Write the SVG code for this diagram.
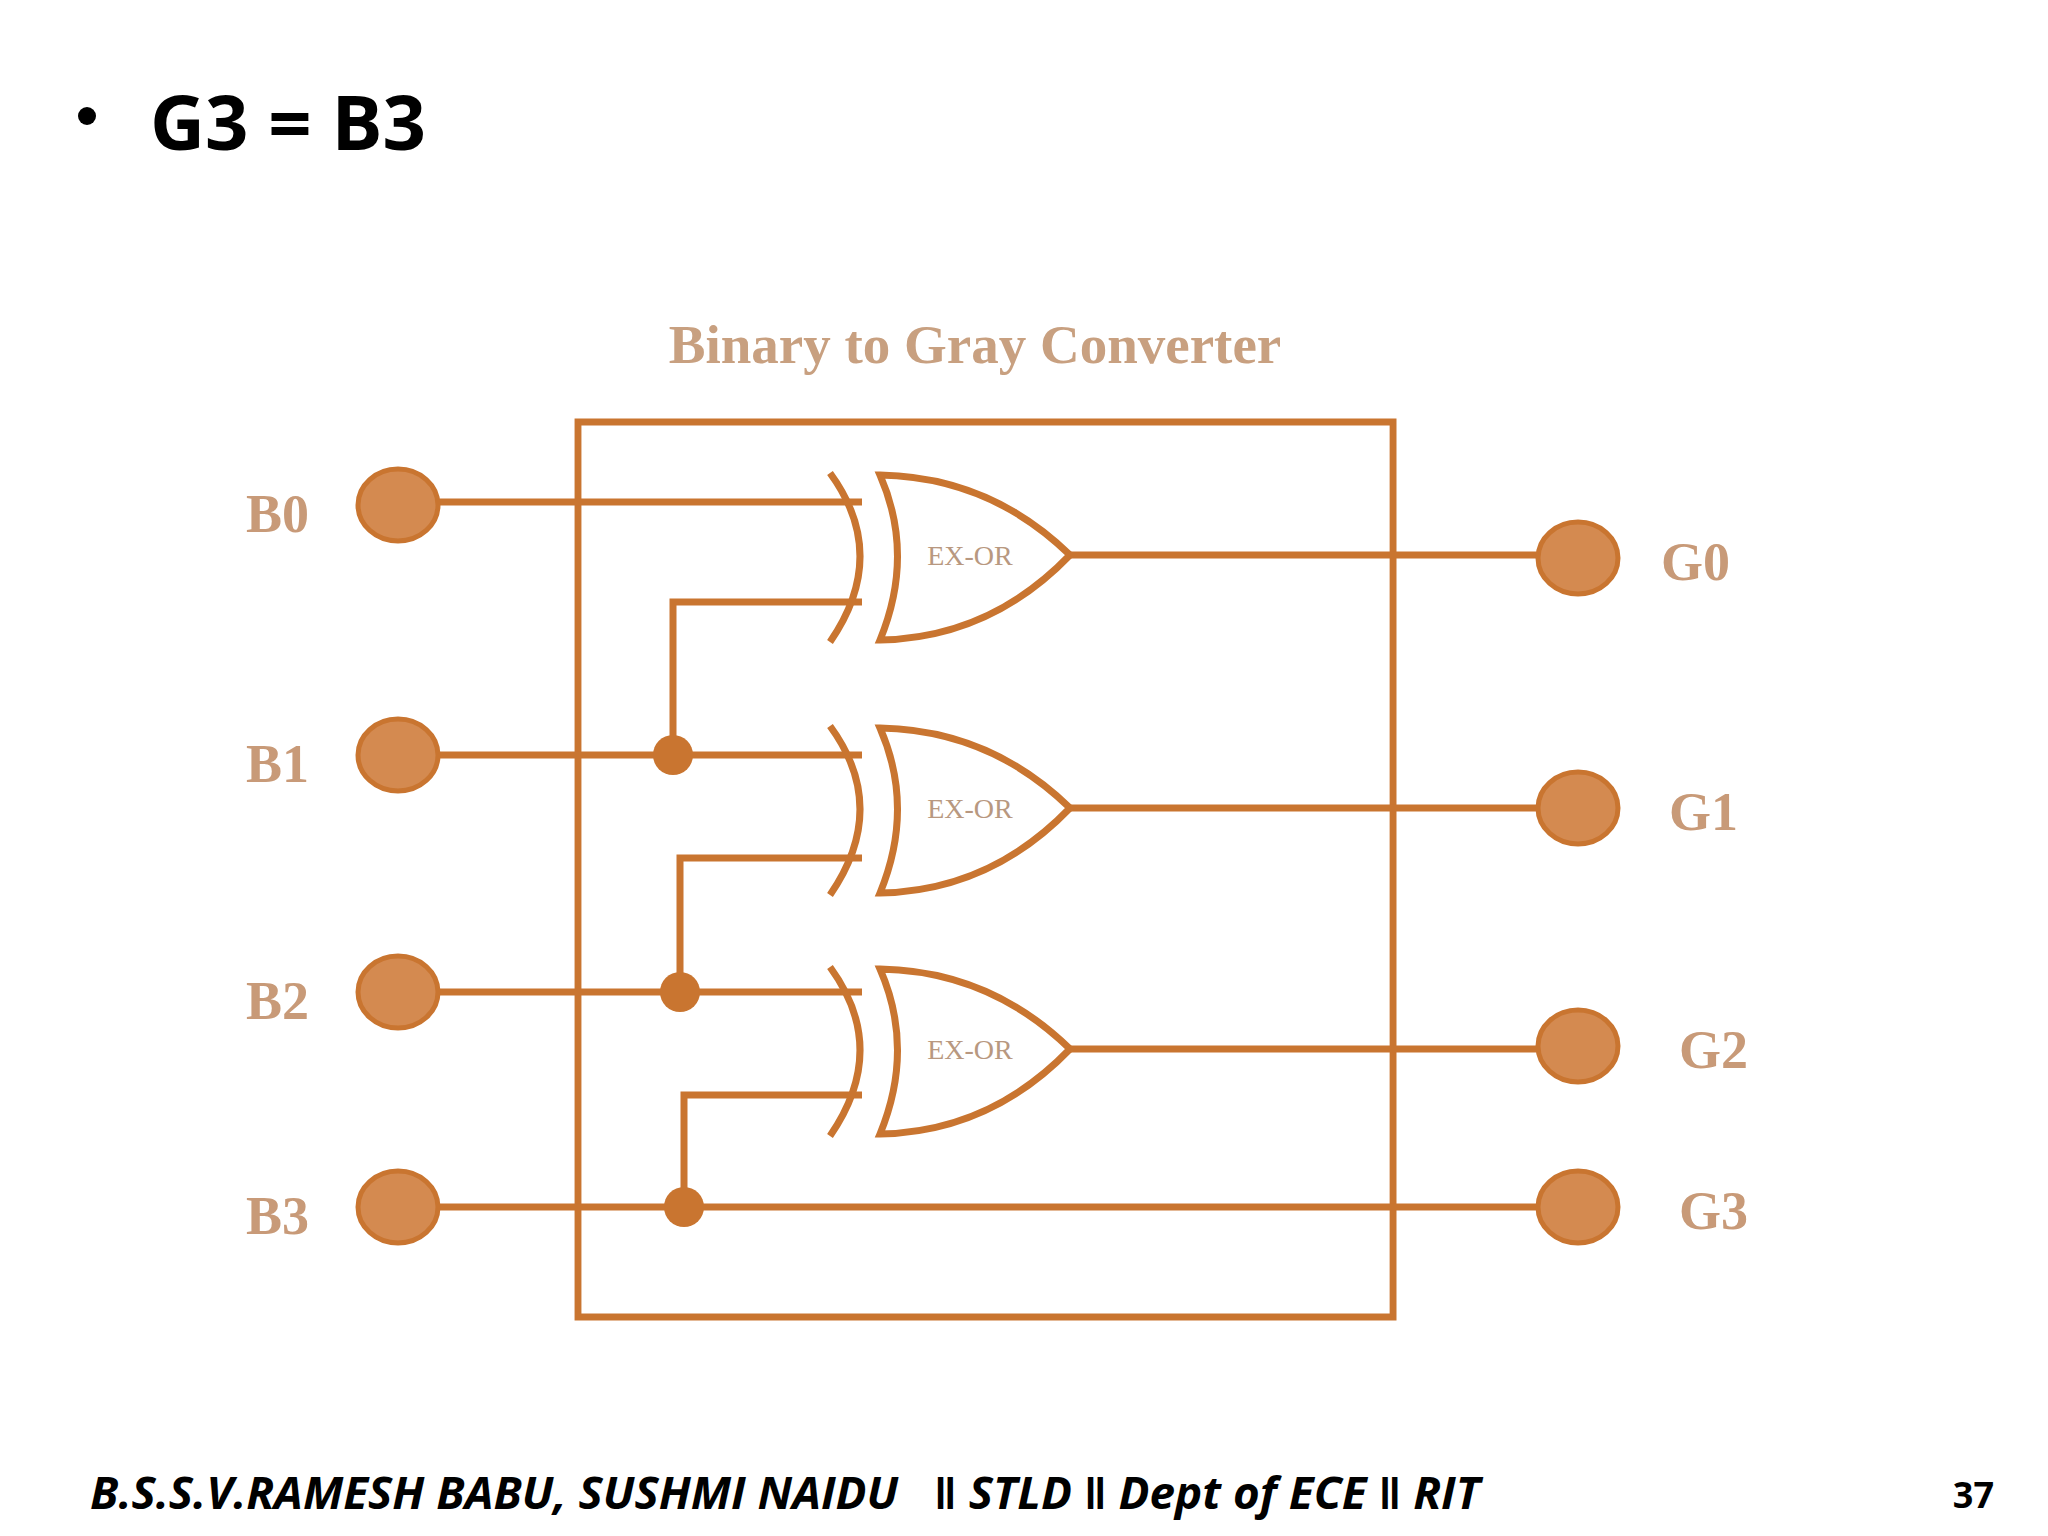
<svg xmlns="http://www.w3.org/2000/svg" width="2048" height="1536" viewBox="0 0 2048 1536">
<style>
.w{stroke:#c97530;stroke-width:7;fill:none}
.g{stroke:#c97530;stroke-width:7;fill:#fff}
.pin{fill:#d48a50;stroke:#c97530;stroke-width:5}
.dot{fill:#c97530}
.lbl{font-family:"Liberation Serif",serif;font-weight:bold;font-size:54px;fill:#c89a78}
.gt{font-family:"Liberation Serif",serif;font-size:28px;fill:#b89880}
</style>
<rect width="2048" height="1536" fill="#fff"/>
<circle cx="87" cy="116" r="9" fill="#000"/>
<text x="150" y="150" font-family="Open Sans, sans-serif" font-weight="bold" font-size="76">G3 = B3</text>
<text x="975" y="363" text-anchor="middle" font-family="Liberation Serif, serif" font-weight="bold" font-size="55" fill="#c8a080">Binary to Gray Converter</text>
<g id="connectors">
<rect x="578" y="422" width="830" height="895" class="w" transform="translate(578 0) scale(0.982 1) translate(-578 0)"/>
<path class="w" d="M398 502H862 M398 755H862 M398 992H862 M398 1207H1578"/>
<path class="w" d="M673 755V602H862 M680 992V858H862 M684 1207V1095H862"/>
<path class="w" d="M1070 555H1578 M1070 808H1578 M1070 1049H1578"/>
<circle class="dot" cx="673" cy="755" r="20"/>
<circle class="dot" cx="680" cy="992" r="20"/>
<circle class="dot" cx="684" cy="1207" r="20"/>
</g>
<g id="gate1"><path class="w" d="M830 473Q890 555 830 642"/><path class="g" d="M880 475Q990 477 1070 555Q990 638 880 640Q915 555 880 475Z"/><text class="gt" x="970" y="565" text-anchor="middle">EX-OR</text></g>
<g id="gate2"><path class="w" d="M830 726Q890 808 830 895"/><path class="g" d="M880 728Q990 730 1070 808Q990 891 880 893Q915 808 880 728Z"/><text class="gt" x="970" y="818" text-anchor="middle">EX-OR</text></g>
<g id="gate3"><path class="w" d="M830 967Q890 1049 830 1136"/><path class="g" d="M880 969Q990 971 1070 1049Q990 1132 880 1134Q915 1049 880 969Z"/><text class="gt" x="970" y="1059" text-anchor="middle">EX-OR</text></g>
<g id="B0"><ellipse class="pin" cx="398" cy="505" rx="40" ry="36"/><text class="lbl" x="246" y="532">B0</text></g>
<g id="B1"><ellipse class="pin" cx="398" cy="755" rx="40" ry="36"/><text class="lbl" x="246" y="782">B1</text></g>
<g id="B2"><ellipse class="pin" cx="398" cy="992" rx="40" ry="36"/><text class="lbl" x="246" y="1019">B2</text></g>
<g id="B3"><ellipse class="pin" cx="398" cy="1207" rx="40" ry="36"/><text class="lbl" x="246" y="1234">B3</text></g>
<g id="G0"><ellipse class="pin" cx="1578" cy="558" rx="40" ry="36"/><text class="lbl" x="1661" y="580">G0</text></g>
<g id="G1"><ellipse class="pin" cx="1578" cy="808" rx="40" ry="36"/><text class="lbl" x="1669" y="830">G1</text></g>
<g id="G2"><ellipse class="pin" cx="1578" cy="1046" rx="40" ry="36"/><text class="lbl" x="1679" y="1068">G2</text></g>
<g id="G3"><ellipse class="pin" cx="1578" cy="1207" rx="40" ry="36"/><text class="lbl" x="1679" y="1229">G3</text></g>
<text x="90" y="1509" xml:space="preserve" font-family="Open Sans, sans-serif" font-style="italic" font-weight="bold" font-size="44" textLength="1390" lengthAdjust="spacingAndGlyphs">B.S.S.V.RAMESH BABU, SUSHMI NAIDU   ‖ STLD ‖ Dept of ECE ‖ RIT</text>
<text x="1994" y="1508" text-anchor="end" font-family="Open Sans, sans-serif" font-weight="bold" font-size="36">37</text>
</svg>
